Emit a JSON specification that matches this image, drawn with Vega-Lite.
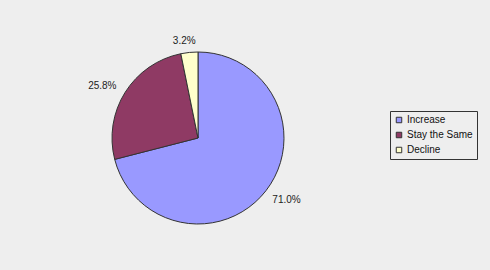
{
  "$schema": "https://vega.github.io/schema/vega-lite/v6.json",
  "width": 396,
  "height": 264,
  "autosize": {"type": "none"},
  "padding": {"top": 6, "left": 0, "right": 94, "bottom": 0},
  "background": "#eeeeee",
  "config": {"view": {"stroke": null}, "font": "Liberation Sans"},
  "data": {"values": [
    {"category": "Increase", "value": 71.0, "label": "71.0%", "idx": 1},
    {"category": "Stay the Same", "value": 25.8, "label": "25.8%", "idx": 2},
    {"category": "Decline", "value": 3.2, "label": "3.2%", "idx": 3}
  ]},
  "encoding": {
    "theta": {"field": "value", "type": "quantitative", "stack": true},
    "order": {"field": "idx", "type": "quantitative"}
  },
  "layer": [
    {
      "mark": {"type": "arc", "outerRadius": 86, "stroke": "#333333", "strokeWidth": 1},
      "encoding": {
        "color": {
          "field": "category", "type": "nominal",
          "scale": {"domain": ["Increase", "Stay the Same", "Decline"], "range": ["#9999ff", "#8f3a64", "#ffffcc"]},
          "legend": {
            "orient": "none", "legendX": 390, "legendY": 105, "title": null,
            "strokeColor": "#333333", "padding": 4,
            "symbolType": "square", "symbolSize": 30, "symbolStrokeColor": "#333333", "symbolStrokeWidth": 1,
            "labelFontSize": 10, "labelColor": "#111111", "labelFont": "Liberation Sans",
            "rowPadding": 5, "labelOffset": 3
          }
        }
      }
    },
    {
      "mark": {"type": "text", "radius": 107, "dx": 4, "dy": -4, "fontSize": 10, "color": "#222222", "font": "Liberation Sans"},
      "encoding": {"text": {"condition": {"test": "datum.idx == 1", "field": "label"}, "value": ""}}
    },
    {
      "mark": {"type": "text", "radius": 107, "dx": -5, "dy": 5, "fontSize": 10, "color": "#222222", "font": "Liberation Sans"},
      "encoding": {"text": {"condition": {"test": "datum.idx == 2", "field": "label"}, "value": ""}}
    },
    {
      "mark": {"type": "text", "radius": 97, "dx": -4, "fontSize": 10, "color": "#222222", "font": "Liberation Sans"},
      "encoding": {"text": {"condition": {"test": "datum.idx == 3", "field": "label"}, "value": ""}}
    }
  ]
}
